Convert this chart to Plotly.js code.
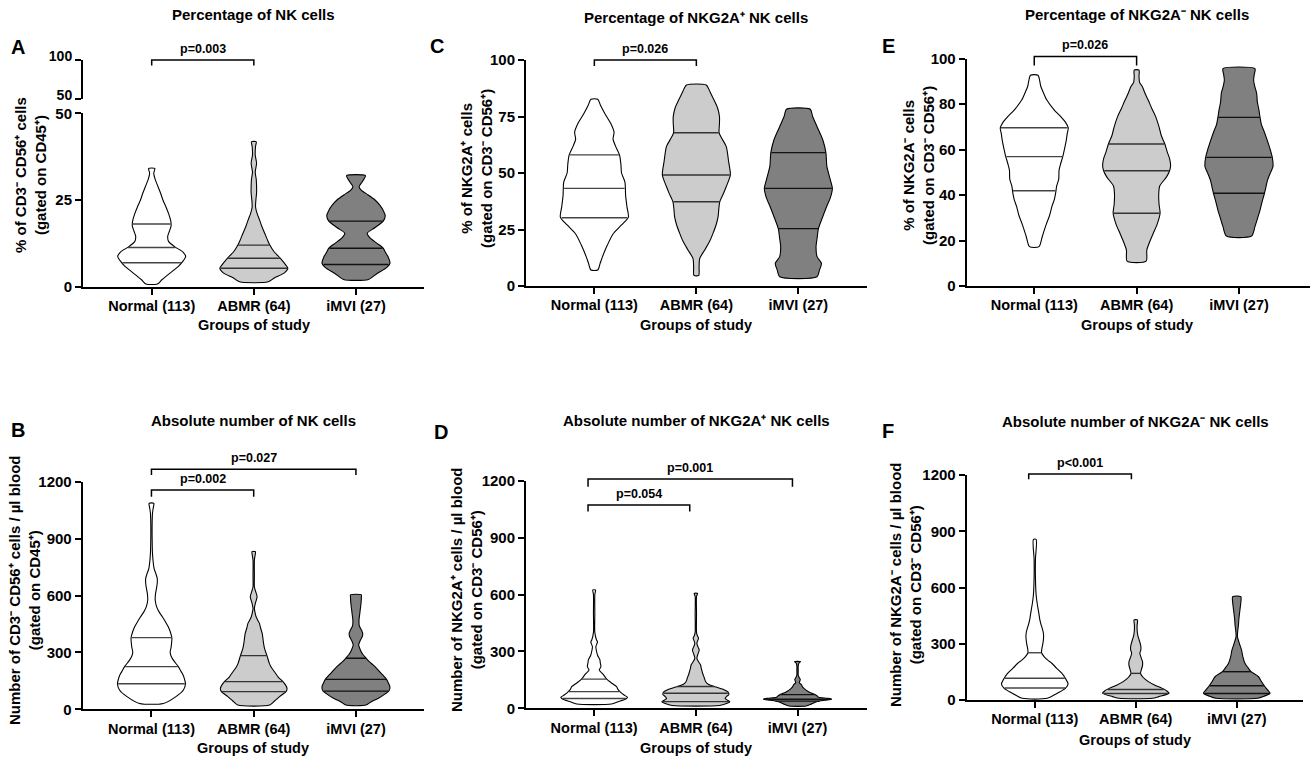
<!DOCTYPE html>
<html><head><meta charset="utf-8">
<script src="https://cdn.plot.ly/plotly-3.0.1.min.js"></script>
<style>html,body{margin:0;padding:0;background:#fff;}#chart{width:1316px;height:762px;}</style>
</head><body><div id="chart"></div>
<script>
// ---------------- DATA ----------------
const groups = ["Normal (113)", "ABMR (64)", "iMVI (27)"];

// Panel A: % NK cells (violin profile: value levels and relative half-widths)
const A_normal_y = [0.8, 2, 4, 6, 7.5, 8.7, 10, 11.5, 13, 14.5, 16, 17.5, 19, 21, 23, 25, 27, 29, 31, 32.7, 34.1];
const A_normal_w = [0.17, 0.3, 0.55, 0.8, 0.93, 1.0, 0.92, 0.68, 0.5, 0.47, 0.52, 0.57, 0.56, 0.5, 0.42, 0.33, 0.26, 0.18, 0.1, 0.06, 0.09];
const A_abmr_y = [1.4, 2.5, 4, 5.3, 6.5, 8.2, 10, 12, 13.5, 15.4, 17.5, 19.2, 21, 23, 25, 27, 29, 31, 33, 35.6, 38, 40.5, 41.8];
const A_abmr_w = [0.42, 0.6, 0.9, 1.0, 0.92, 0.78, 0.6, 0.47, 0.4, 0.32, 0.23, 0.17, 0.1, 0.05, 0.06, 0.08, 0.08, 0.07, 0.04, 0.08, 0.04, 0.05, 0.07];
const A_imvi_y = [2.1, 3.8, 5.5, 6.7, 8.5, 10, 11.1, 12.5, 14, 15.4, 17, 18.9, 20.5, 22, 23.5, 25, 26.5, 27.8, 28.8, 30.5, 32];
const A_imvi_w = [0.37, 0.62, 0.9, 1.0, 0.95, 0.86, 0.8, 0.62, 0.42, 0.33, 0.55, 0.8, 0.86, 0.8, 0.7, 0.56, 0.35, 0.16, 0.09, 0.2, 0.28];
const A_q1 = [6.9, 5.3, 6.4];
const A_med = [11.3, 8.2, 11.1];
const A_q3 = [18.1, 12.0, 18.9];
const A_p = ["p=0.003"];

// Panel C: % NKG2A+ NK cells
const C_normal_y = [7.1, 10, 13, 18, 23, 27, 30.5, 35, 40, 46, 50, 54, 58, 62, 65, 68, 72, 76, 80, 82.6];
const C_normal_w = [0.1, 0.17, 0.24, 0.38, 0.55, 0.8, 1.0, 0.96, 0.92, 0.9, 0.8, 0.78, 0.74, 0.62, 0.55, 0.58, 0.48, 0.32, 0.18, 0.1];
const C_abmr_y = [4.7, 8.6, 12.2, 16, 20, 23.3, 27, 30.7, 34, 37.3, 41, 44, 49.1, 55, 61.7, 65, 67.8, 72, 75, 79, 82.3, 86, 88.9];
const C_abmr_w = [0.07, 0.08, 0.1, 0.25, 0.4, 0.49, 0.58, 0.64, 0.66, 0.69, 0.8, 0.88, 1.0, 0.95, 0.88, 0.76, 0.67, 0.68, 0.68, 0.62, 0.52, 0.4, 0.29];
const C_imvi_y = [4.1, 7, 10, 13, 17.4, 21, 25.4, 30, 35.1, 39, 43.2, 47, 52.8, 59, 64.6, 70.5, 75, 78.2];
const C_imvi_w = [0.55, 0.62, 0.68, 0.55, 0.52, 0.55, 0.59, 0.7, 0.83, 0.94, 1.0, 0.94, 0.84, 0.81, 0.72, 0.55, 0.42, 0.35];
const C_q1 = [30.2, 37.3, 25.4];
const C_med = [43.2, 49.1, 43.2];
const C_q3 = [58.0, 67.8, 59.0];
const C_p = ["p=0.026"];

// Panel E: % NKG2A- NK cells
const E_normal_y = [17.3, 22, 27, 31, 35, 38, 41, 44, 47, 51, 54, 57, 61, 64, 67, 69.6, 72, 74.5, 77.4, 81.8, 85, 88, 92.7];
const E_normal_w = [0.14, 0.24, 0.35, 0.45, 0.52, 0.59, 0.63, 0.66, 0.72, 0.73, 0.78, 0.84, 0.9, 0.94, 0.97, 1.0, 0.92, 0.78, 0.59, 0.37, 0.27, 0.19, 0.11];
const E_abmr_y = [10.9, 15.8, 20, 23.2, 27, 32, 36, 40, 44, 48, 50.7, 53, 56, 59, 62.5, 66, 70, 74.5, 78, 81.8, 85, 87.7, 89.5, 92, 95];
const E_abmr_w = [0.28, 0.3, 0.4, 0.49, 0.6, 0.69, 0.66, 0.65, 0.68, 0.88, 0.97, 1.0, 0.97, 0.9, 0.83, 0.73, 0.66, 0.56, 0.45, 0.34, 0.24, 0.17, 0.09, 0.07, 0.07];
const E_imvi_y = [22, 26.1, 30, 33.4, 37, 40.8, 44, 46.6, 50, 52.5, 56.6, 60, 64.2, 68, 71, 74.2, 78, 81, 84.8, 88, 90.6, 93, 95.6];
const E_imvi_w = [0.37, 0.47, 0.55, 0.62, 0.68, 0.75, 0.8, 0.84, 0.93, 1.0, 0.98, 0.92, 0.83, 0.74, 0.66, 0.62, 0.58, 0.54, 0.52, 0.46, 0.43, 0.45, 0.47];
const E_q1 = [41.9, 32.0, 40.8];
const E_med = [56.9, 50.7, 56.6];
const E_q3 = [69.6, 62.5, 74.2];
const E_p = ["p=0.026"];

// Panel B: absolute number of NK cells
const B_normal_y = [31, 67, 102, 135, 160, 181, 200, 225, 255, 280, 300, 330, 377, 410, 436, 462, 488, 515, 541, 576, 610, 640, 665, 690, 715, 740, 778, 822, 900, 980, 1033, 1060, 1086];
const B_normal_w = [0.35, 0.72, 0.94, 1.0, 0.97, 0.93, 0.87, 0.79, 0.66, 0.58, 0.55, 0.58, 0.6, 0.55, 0.49, 0.41, 0.32, 0.22, 0.15, 0.11, 0.12, 0.15, 0.17, 0.17, 0.13, 0.08, 0.05, 0.03, 0.02, 0.02, 0.03, 0.05, 0.07];
const B_abmr_y = [22.5, 45, 67, 93, 110, 130, 146, 170, 198, 220, 242, 283, 320, 348, 375, 400, 430, 453, 470, 488, 510, 532, 560, 594, 625, 646, 700, 787, 810, 831];
const B_abmr_w = [0.47, 0.62, 0.76, 0.95, 0.98, 0.93, 0.86, 0.72, 0.61, 0.52, 0.46, 0.39, 0.32, 0.29, 0.27, 0.25, 0.2, 0.17, 0.12, 0.07, 0.04, 0.02, 0.05, 0.1, 0.05, 0.02, 0.02, 0.02, 0.04, 0.05];
const B_imvi_y = [22.6, 40, 58, 80, 96.4, 119, 140, 158, 190, 225, 250, 269, 290, 313, 339, 360, 385, 400, 415, 440, 470, 500, 530, 560, 590, 603];
const B_imvi_w = [0.3, 0.45, 0.66, 0.85, 0.97, 1.0, 0.95, 0.9, 0.74, 0.56, 0.4, 0.3, 0.2, 0.13, 0.08, 0.12, 0.19, 0.2, 0.17, 0.1, 0.09, 0.11, 0.13, 0.15, 0.16, 0.16];
const B_q1 = [135, 93, 96];
const B_med = [225, 146, 158];
const B_q3 = [378, 283, 269];
const B_p = ["p=0.027", "p=0.002"];

// Panel D: absolute number of NKG2A+ NK cells
const D_normal_y = [22.6, 35, 44, 52, 58, 70, 88, 100, 114, 135, 154, 180, 202, 219, 240, 255, 280, 310, 325, 340, 351, 360, 400, 500, 600, 624];
const D_normal_w = [0.51, 0.7, 0.86, 0.95, 0.98, 0.88, 0.76, 0.7, 0.66, 0.5, 0.37, 0.26, 0.15, 0.2, 0.18, 0.17, 0.1, 0.06, 0.05, 0.08, 0.1, 0.07, 0.02, 0.02, 0.02, 0.04];
const D_abmr_y = [15, 26, 35, 44, 52, 62, 72, 85, 100, 112, 125, 140, 160, 185, 210, 228, 245, 263, 285, 307, 325, 342, 355, 369, 385, 400, 500, 590, 606];
const D_abmr_w = [0.7, 0.92, 1.0, 0.92, 0.86, 0.9, 0.97, 0.95, 0.8, 0.6, 0.38, 0.29, 0.25, 0.2, 0.16, 0.14, 0.08, 0.03, 0.06, 0.1, 0.06, 0.03, 0.05, 0.08, 0.04, 0.02, 0.02, 0.02, 0.05];
const D_imvi_y = [12, 22, 35, 42, 47, 50, 53, 58, 66, 74, 85, 96, 110, 123, 135, 145, 153, 162, 175, 200, 225, 240, 246];
const D_imvi_w = [0.25, 0.4, 0.56, 0.8, 1.0, 0.98, 0.85, 0.62, 0.57, 0.5, 0.35, 0.25, 0.16, 0.12, 0.05, 0.07, 0.08, 0.05, 0.02, 0.02, 0.02, 0.05, 0.09];
const D_q1 = [52, 35, 38];
const D_med = [88, 79, 48];
const D_q3 = [154, 115, 72];
const D_p = ["p=0.001", "p=0.054"];

// Panel F: absolute number of NKG2A- NK cells
const F_normal_y = [9, 36, 62, 85, 116, 142, 170, 196, 210, 230, 252, 275, 293, 315, 338, 360, 382, 405, 427, 462, 516, 560, 650, 750, 857];
const F_normal_w = [0.37, 0.66, 0.9, 0.98, 0.9, 0.8, 0.64, 0.5, 0.4, 0.28, 0.2, 0.21, 0.23, 0.25, 0.26, 0.25, 0.22, 0.18, 0.15, 0.12, 0.07, 0.04, 0.02, 0.02, 0.04];
const F_abmr_y = [9, 18, 36, 50, 62, 80, 98, 120, 142, 165, 185, 204, 225, 249, 267, 285, 302, 320, 345, 373, 400, 427];
const F_abmr_w = [0.49, 0.68, 0.98, 0.9, 0.78, 0.55, 0.37, 0.22, 0.14, 0.17, 0.2, 0.2, 0.16, 0.12, 0.15, 0.15, 0.13, 0.1, 0.06, 0.04, 0.04, 0.05];
const F_imvi_y = [9, 20, 36, 55, 76, 100, 124, 151, 175, 196, 230, 267, 300, 338, 370, 400, 427, 460, 490, 520, 551];
const F_imvi_w = [0.61, 0.8, 0.98, 0.9, 0.81, 0.72, 0.64, 0.42, 0.32, 0.24, 0.18, 0.14, 0.08, 0.02, 0.03, 0.05, 0.06, 0.08, 0.1, 0.12, 0.12];
const F_q1 = [64, 35, 35];
const F_med = [116, 56, 76];
const F_q3 = [252, 142, 151];
const F_p = ["p<0.001"];

// ---------------- LAYOUT / STYLE ----------------
const W = 1316, H = 762;
const FONT = 'Arial, "Liberation Sans", Helvetica, sans-serif';
const fills = ['#ffffff', '#cccccc', '#808080'];
const qColors = ['#444444', '#333333', '#111111'];
const HALFPX = 34;

const panels = [
  {xa:'x', ya:'y', xdom:[83,424], ydom:[286.7,113.3], xr:[-0.6725,2.6657], yr:[0,50], ticks:[0,25,50],
   prof:[[A_normal_y,A_normal_w],[A_abmr_y,A_abmr_w],[A_imvi_y,A_imvi_w]], q:[A_q1,A_med,A_q3],
   title:'Percentage of NK cells', tpos:[253,15], letter:'A', lpos:[18,47],
   ytitle:'% of CD3⁻ CD56⁺ cells<br>(gated on CD45⁺)', ypos:[31,175], xpos:[254,325],
   top:{ya:'y7', ydom:[99.3,60], yr:[50,100]},
   br:[{a:0,b:1,bar:100,drop:93,useTop:true,t:A_p[0]}]},
  {xa:'x2', ya:'y2', xdom:[526,866.7], ydom:[286,60], xr:[-0.67,2.67], yr:[0,100], ticks:[0,25,50,75,100],
   prof:[[C_normal_y,C_normal_w],[C_abmr_y,C_abmr_w],[C_imvi_y,C_imvi_w]], q:[C_q1,C_med,C_q3],
   title:'Percentage of NKG2A⁺ NK cells', tpos:[696,18], letter:'C', lpos:[437,46],
   ytitle:'% of NKG2A⁺ cells<br>(gated on CD3⁻ CD56⁺)', ypos:[477,169], xpos:[696,325],
   br:[{a:0,b:1,bar:100,drop:97.3,t:C_p[0]}]},
  {xa:'x3', ya:'y3', xdom:[966.7,1310], ydom:[286,58.7], xr:[-0.66,2.694], yr:[0,100], ticks:[0,20,40,60,80,100],
   prof:[[E_normal_y,E_normal_w],[E_abmr_y,E_abmr_w],[E_imvi_y,E_imvi_w]], q:[E_q1,E_med,E_q3],
   title:'Percentage of NKG2A⁻ NK cells', tpos:[1137,15], letter:'E', lpos:[888,46],
   ytitle:'% of NKG2A⁻ cells<br>(gated on CD3⁻ CD56⁺)', ypos:[918,166], xpos:[1137,325],
   br:[{a:0,b:1,bar:101,drop:97,t:E_p[0]}]},
  {xa:'x4', ya:'y4', xdom:[82.7,424], ydom:[709.3,481.7], xr:[-0.6725,2.6657], yr:[0,1200], ticks:[0,300,600,900,1200],
   prof:[[B_normal_y,B_normal_w],[B_abmr_y,B_abmr_w],[B_imvi_y,B_imvi_w]], q:[B_q1,B_med,B_q3],
   title:'Absolute number of NK cells', tpos:[253,420], letter:'B', lpos:[18,430],
   ytitle:'Number of CD3⁻ CD56⁺ cells / µl blood<br>(gated on CD45⁺)', ypos:[24,590], xpos:[253,748],
   br:[{a:0,b:2,bar:1265,drop:1235,t:B_p[0]},{a:0,b:1,bar:1156,drop:1121,t:B_p[1]}]},
  {xa:'x5', ya:'y5', xdom:[526,866.7], ydom:[708.3,480.7], xr:[-0.67,2.68], yr:[0,1200], ticks:[0,300,600,900,1200],
   prof:[[D_normal_y,D_normal_w],[D_abmr_y,D_abmr_w],[D_imvi_y,D_imvi_w]], q:[D_q1,D_med,D_q3],
   title:'Absolute number of NKG2A⁺ NK cells', tpos:[696,420], letter:'D', lpos:[441,432],
   ytitle:'Number of NKG2A⁺ cells / µl blood<br>(gated on CD3⁻ CD56⁺)', ypos:[466,590], xpos:[696,748],
   br:[{a:-0.06,b:1.95,bar:1209,drop:1168,t:D_p[0]},{a:-0.06,b:0.94,bar:1072,drop:1037,t:D_p[1]}]},
  {xa:'x6', ya:'y6', xdom:[966.7,1303], ydom:[700,475], xr:[-0.674,2.656], yr:[0,1200], ticks:[0,300,600,900,1200],
   prof:[[F_normal_y,F_normal_w],[F_abmr_y,F_abmr_w],[F_imvi_y,F_imvi_w]], q:[F_q1,F_med,F_q3],
   title:'Absolute number of NKG2A⁻ NK cells', tpos:[1135,421], letter:'F', lpos:[888,431],
   ytitle:'Number of NKG2A⁻ cells / µl blood<br>(gated on CD3⁻ CD56⁺)', ypos:[905,584], xpos:[1135,740],
   br:[{a:-0.06,b:0.957,bar:1205,drop:1177,t:F_p[0]}]}
];

function interp(ys, ws, v){
  if (v <= ys[0]) return ws[0];
  for (let i=1;i<ys.length;i++){
    if (v <= ys[i]) { const t=(v-ys[i-1])/(ys[i]-ys[i-1]); return ws[i-1]+t*(ws[i]-ws[i-1]); }
  }
  return ws[ws.length-1];
}
function axKey(a){ return a.replace('x','xaxis').replace('y','yaxis'); }

const traces = [];
const layout = {
  width: W, height: H, autosize:false, margin:{l:0,r:0,t:0,b:0},
  paper_bgcolor:'#fff', plot_bgcolor:'rgba(0,0,0,0)', showlegend:false,
  font:{family:FONT, color:'#000', size:14}, annotations:[], shapes:[]
};
const yTickFont = {family:FONT, size:15, color:'#000', weight:'bold'};
const xTickFont = {family:FONT, size:14.5, color:'#000', weight:'bold'};
function ann(text, px, py, size, extra){
  return Object.assign({text:text, x:px/W, y:1-py/H, xref:'paper', yref:'paper', showarrow:false,
    xanchor:'center', yanchor:'middle', font:{family:FONT, size:size, color:'#000', weight:'bold'}}, extra||{});
}

panels.forEach(p => {
  const spacing = (p.xdom[1]-p.xdom[0])/(p.xr[1]-p.xr[0]);
  const HW = HALFPX/spacing;
  const yAxisCfg = (dom, rng, ticks, extra) => Object.assign({domain:[1-dom[0]/H, 1-dom[1]/H], range:rng, anchor:p.xa,
    tickmode:'array', tickvals:ticks, showline:true, linecolor:'#000', linewidth:2, ticks:'outside', ticklen:6,
    tickwidth:2, tickcolor:'#000', showgrid:false, zeroline:false, tickfont:yTickFont, fixedrange:true, ticklabelstandoff:0}, extra||{});
  layout[axKey(p.xa)] = {domain:[p.xdom[0]/W, p.xdom[1]/W], range:p.xr, anchor:p.ya, tickmode:'array',
    tickvals:[0,1,2], ticktext:groups, showline:true, linecolor:'#000', linewidth:2, ticks:'outside', ticklen:6,
    tickwidth:2, tickcolor:'#000', showgrid:false, zeroline:false, tickfont:xTickFont, fixedrange:true, ticklabelstandoff:-1};
  layout[axKey(p.ya)] = yAxisCfg(p.ydom, p.yr, p.ticks);
  if (p.top) {
    layout[axKey(p.top.ya)] = yAxisCfg(p.top.ydom, p.top.yr, p.top.yr,
      {tickfont:{family:FONT, size:14, color:'#000', weight:'bold'}, ticklabelshift:-4});
    traces.push({type:'scatter', mode:'markers', x:[1], y:[p.top.yr[1]], xaxis:p.xa, yaxis:p.top.ya,
      marker:{opacity:0}, hoverinfo:'skip'});
  }
  // violins
  p.prof.forEach((pr, g) => {
    const ys = pr[0], ws = pr[1];
    const xs = [], yy = [];
    for (let i=0;i<ys.length;i++){ xs.push(g+ws[i]*HW); yy.push(ys[i]); }
    for (let i=ys.length-1;i>=0;i--){ xs.push(g-ws[i]*HW); yy.push(ys[i]); }
    xs.push(xs[0]); yy.push(yy[0]);
    traces.push({type:'scatter', mode:'lines', x:xs, y:yy, xaxis:p.xa, yaxis:p.ya, fill:'toself',
      fillcolor:fills[g], line:{color:'#000', width:1.1, shape:'spline', smoothing:0.7}, hoverinfo:'skip'});
    const qx = [], qy = [];
    p.q.forEach(arr => {
      const v = arr[g]; const w = interp(ys, ws, v)*HW*0.98;
      qx.push(g-w, g+w, null); qy.push(v, v, null);
    });
    traces.push({type:'scatter', mode:'lines', x:qx, y:qy, xaxis:p.xa, yaxis:p.ya,
      line:{color:qColors[g], width:1.4}, hoverinfo:'skip'});
  });
  // annotations
  layout.annotations.push(ann(p.title, p.tpos[0], p.tpos[1], 15));
  layout.annotations.push(ann(p.letter, p.lpos[0], p.lpos[1], 20));
  layout.annotations.push(ann(p.ytitle, p.ypos[0], p.ypos[1], 15, {textangle:-90}));
  layout.annotations.push(ann('Groups of study', p.xpos[0], p.xpos[1], 14.5));
  // brackets
  const xpx = c => p.xdom[0] + (c - p.xr[0])*spacing;
  p.br.forEach(b => {
    const dom = b.useTop ? p.top.ydom : p.ydom, rng = b.useTop ? p.top.yr : p.yr;
    const ypx = v => dom[0] + (v - rng[0])/(rng[1]-rng[0])*(dom[1]-dom[0]);
    const x1 = xpx(b.a), x2 = xpx(b.b), yb = ypx(b.bar), yd = ypx(b.drop);
    layout.shapes.push({type:'path', xref:'paper', yref:'paper',
      path:`M ${x1/W},${1-yd/H} L ${x1/W},${1-yb/H} L ${x2/W},${1-yb/H} L ${x2/W},${1-yd/H}`,
      line:{color:'#000', width:1.5}});
    layout.annotations.push(ann(b.t, (x1+x2)/2, yb-2, 12.5, {yanchor:'bottom'}));
  });
});

Plotly.newPlot('chart', traces, layout, {staticPlot:true, displayModeBar:false});
</script>
</body></html>
